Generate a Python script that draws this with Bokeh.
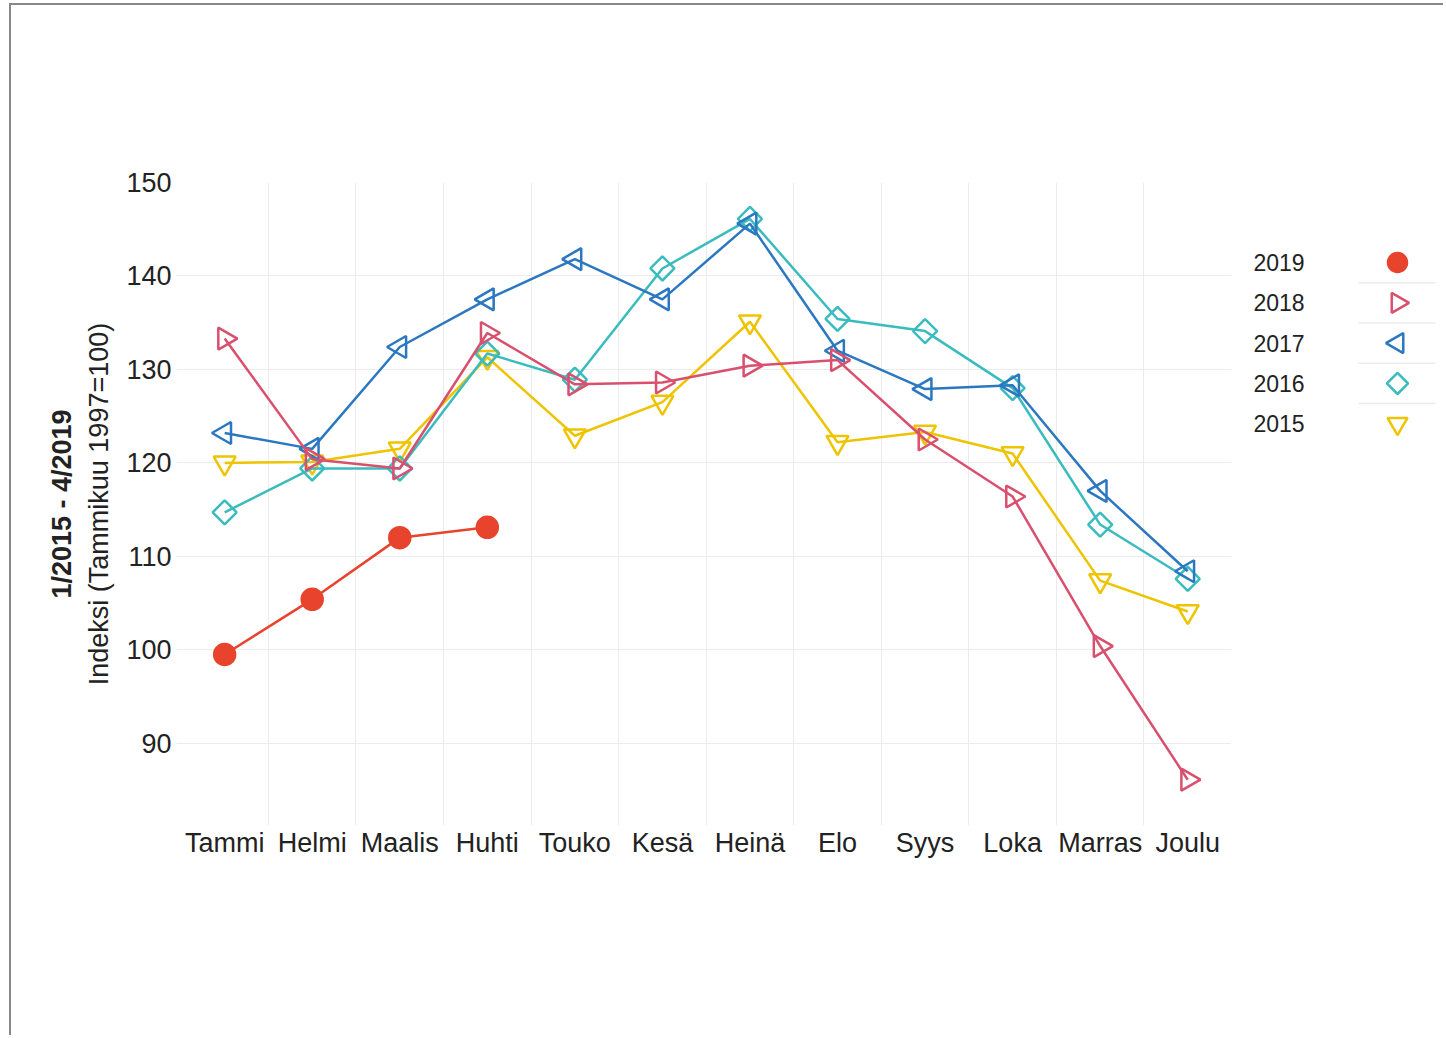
import math
from bokeh.plotting import figure
from bokeh.models import Range1d, FixedTicker, LinearAxis, ColumnDataSource
from bokeh.layouts import row
from bokeh.core.properties import value
from bokeh.embed import file_html
from bokeh.resources import INLINE

# ---- data ----
months = ["Tammi", "Helmi", "Maalis", "Huhti", "Touko", "Kesä", "Heinä",
          "Elo", "Syys", "Loka", "Marras", "Joulu"]
years = ["2019", "2018", "2017", "2016", "2015"]
y2019 = [99.5, 105.4, 112.0, 113.1]
y2018 = [133.3, 120.4, 119.4, 133.9, 128.4, 128.6, 130.4, 131.0, 122.5, 116.4, 100.4, 86.1]
y2017 = [123.2, 121.5, 132.4, 137.5, 141.8, 137.5, 145.6, 132.0, 127.9, 128.3, 117.0, 108.4]
y2016 = [114.7, 119.4, 119.4, 131.7, 128.9, 140.8, 146.1, 135.4, 134.1, 128.0, 113.4, 107.6]
y2015 = [120.0, 120.1, 121.5, 131.3, 122.9, 126.5, 135.1, 122.2, 123.3, 121.0, 107.4, 104.1]
y_ticks = [90, 100, 110, 120, 130, 140, 150]

# ---- styles ----
FONT = "Liberation Sans"
TXT = "#222222"
GRID = "#ececec"
colors = {"2019": "#e8432d", "2018": "#d9506e", "2017": "#2b78c0",
          "2016": "#3abcbe", "2015": "#eec300"}
markers = {"2019": "circle", "2018": "triangle", "2017": "triangle",
           "2016": "square", "2015": "inverted_triangle"}
angles = {"2019": 0.0, "2018": -math.pi / 2, "2017": math.pi / 2,
          "2016": math.pi / 4, "2015": 0.0}
sizes = {"2019": 21, "2018": 22, "2017": 22, "2016": 17, "2015": 22}
series = {"2019": y2019, "2018": y2018, "2017": y2017, "2016": y2016, "2015": y2015}

H = 1030
MB_TOP, MB_BOT = 177, 210
p = figure(width=1220, height=H, output_backend="svg", toolbar_location=None,
           x_range=Range1d(-0.55, 11.5), y_range=Range1d(81.2, 150),
           min_border_left=165, min_border_right=0, min_border_top=MB_TOP,
           min_border_bottom=MB_BOT)
p.outline_line_color = None
p.background_fill_color = "white"
p.border_fill_color = "white"

# axes
xa = p.xaxis[0]
xa.ticker = FixedTicker(ticks=list(range(len(months))))
xa.major_label_overrides = {i: m for i, m in enumerate(months)}
ya = p.yaxis[0]
ya.ticker = FixedTicker(ticks=y_ticks)
for ax in (xa, ya):
    ax.axis_line_color = None
    ax.major_tick_line_color = None
    ax.minor_tick_line_color = None
    ax.major_tick_out = 0
    ax.major_tick_in = 0
    ax.major_label_text_font = FONT
    ax.major_label_text_font_size = "27px"
    ax.major_label_text_color = TXT
xa.major_label_standoff = 2
ya.major_label_standoff = 5
ya.axis_label = "Indeksi (Tammikuu 1997=100)"
ya.axis_label_text_font = FONT
ya.axis_label_text_font_size = "27px"
ya.axis_label_text_font_style = "normal"
ya.axis_label_text_color = TXT
ya.axis_label_standoff = 9

extra = LinearAxis(ticker=FixedTicker(ticks=[]), axis_label="1/2015 - 4/2019")
extra.axis_line_color = None
extra.major_tick_line_color = None
extra.minor_tick_line_color = None
extra.major_tick_out = 0
extra.major_label_standoff = 0
extra.axis_label_text_font = FONT
extra.axis_label_text_font_size = "27px"
extra.axis_label_text_font_style = "bold"
extra.axis_label_text_color = TXT
extra.axis_label_standoff = 5
p.add_layout(extra, "left")

# grids
p.ygrid.ticker = FixedTicker(ticks=y_ticks)
p.ygrid.grid_line_color = GRID
p.xgrid.ticker = FixedTicker(ticks=[i + 0.5 for i in range(len(months) - 1)])
p.xgrid.grid_line_color = GRID

# series
for yr in ["2015", "2016", "2017", "2018", "2019"]:
    vals = series[yr]
    xs = list(range(len(vals)))
    p.line(xs, vals, line_color=colors[yr], line_width=2.5)
    filled = yr == "2019"
    p.scatter(xs, vals, marker=markers[yr], size=sizes[yr], angle=angles[yr],
              line_color=colors[yr], line_width=2.5,
              fill_color=colors[yr] if filled else None)

# ---- legend panel (frame aligned with the main frame) ----
LW = 212
FH = H - MB_TOP - MB_BOT
leg = figure(width=LW, height=H, output_backend="svg", toolbar_location=None,
             x_range=Range1d(0, LW), y_range=Range1d(FH, 0),
             x_axis_location=None, y_axis_location=None,
             min_border_left=0, min_border_right=0, min_border_top=MB_TOP,
             min_border_bottom=MB_BOT)
leg.outline_line_color = None
leg.xgrid.visible = False
leg.ygrid.visible = False

LEG_TOP, LEG_STEP = 80, 40.3
ly = [LEG_TOP + LEG_STEP * i for i in range(len(years))]
src = ColumnDataSource(dict(
    x=[166] * len(years), y=ly, tx=[22] * len(years), label=years,
    marker=[markers[y] for y in years], angle=[angles[y] for y in years],
    size=[sizes[y] - 2 for y in years], color=[colors[y] for y in years],
    fill=[colors[y] if y == "2019" else None for y in years]))
leg.text(x="tx", y="y", text="label", source=src, text_font=value(FONT),
         text_font_size="23px", text_color=TXT, text_baseline="middle", text_align="left")
leg.scatter(x="x", y="y", marker="marker", angle="angle", size="size", source=src,
            line_color="color", fill_color="fill", line_width=2.5)
sep_y = [(ly[i] + ly[i + 1]) / 2 for i in range(len(ly) - 1)]
leg.segment(x0=[127] * len(sep_y), x1=[204] * len(sep_y), y0=sep_y, y1=sep_y,
            line_color=GRID, line_width=1.5)

layout = row(p, leg, styles={"border-top": "2px solid #888888",
                             "border-left": "2px solid #888888",
                             "margin-top": "3px", "margin-left": "9px"})
open("out.html", "w").write(file_html(layout, INLINE))
